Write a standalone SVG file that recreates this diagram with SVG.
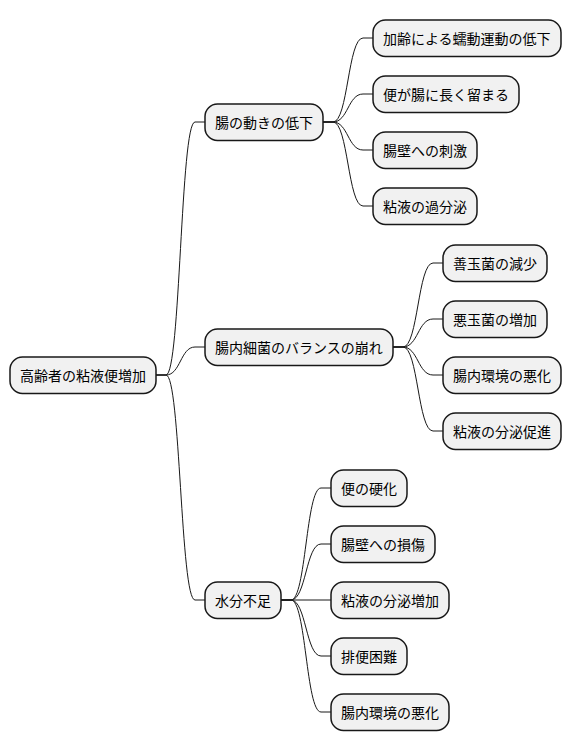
<svg xmlns="http://www.w3.org/2000/svg" width="572" height="752" viewBox="0 0 572 752">
<style>
.n rect{fill:#F1F1F1;stroke:#181818;stroke-width:1.5}
.n text{font-family:"Noto Sans CJK JP","Noto Sans",sans-serif;font-size:14px;fill:#000000}
.c path{fill:none;stroke:#181818;stroke-width:1}
</style>
<rect width="572" height="752" fill="#FFFFFF"/>
<g class="c">
<path d="M156,375 L166,375 C180.5,375 180.5,122 195,122 L205,122"/>
<path d="M156,375 L166,375 C180.5,375 180.5,347 195,347 L205,347"/>
<path d="M156,375 L166,375 C180.5,375 180.5,600 195,600 L205,600"/>
<path d="M323,122 L333,122 C348,122 348,38 363,38 L373,38"/>
<path d="M323,122 L333,122 C348,122 348,94 363,94 L373,94"/>
<path d="M323,122 L333,122 C348,122 348,150 363,150 L373,150"/>
<path d="M323,122 L333,122 C348,122 348,206 363,206 L373,206"/>
<path d="M393,347 L403,347 C418,347 418,263 433,263 L443,263"/>
<path d="M393,347 L403,347 C418,347 418,319 433,319 L443,319"/>
<path d="M393,347 L403,347 C418,347 418,375 433,375 L443,375"/>
<path d="M393,347 L403,347 C418,347 418,431 433,431 L443,431"/>
<path d="M281,600 L291,600 C306,600 306,488 321,488 L331,488"/>
<path d="M281,600 L291,600 C306,600 306,544 321,544 L331,544"/>
<path d="M281,600 L331,600"/>
<path d="M281,600 L291,600 C306,600 306,656 321,656 L331,656"/>
<path d="M281,600 L291,600 C306,600 306,712 321,712 L331,712"/>
</g>
<g id="root" class="n"><rect x="10" y="357" width="146" height="36.5" rx="12.5"/><text x="20" y="380.5">高齢者の粘液便増加</text></g>
<g id="n1" class="n"><rect x="205" y="104" width="118" height="36.5" rx="12.5"/><text x="215" y="127.5">腸の動きの低下</text></g>
<g id="n2" class="n"><rect x="205" y="329" width="188" height="36.5" rx="12.5"/><text x="215" y="352.5">腸内細菌のバランスの崩れ</text></g>
<g id="n3" class="n"><rect x="205" y="582" width="76" height="36.5" rx="12.5"/><text x="215" y="605.5">水分不足</text></g>
<g id="n1a" class="n"><rect x="373" y="20" width="188" height="36.5" rx="12.5"/><text x="383" y="43.5">加齢による蠕動運動の低下</text></g>
<g id="n1b" class="n"><rect x="373" y="76" width="146" height="36.5" rx="12.5"/><text x="383" y="99.5">便が腸に長く留まる</text></g>
<g id="n1c" class="n"><rect x="373" y="132" width="104" height="36.5" rx="12.5"/><text x="383" y="155.5">腸壁への刺激</text></g>
<g id="n1d" class="n"><rect x="373" y="188" width="104" height="36.5" rx="12.5"/><text x="383" y="211.5">粘液の過分泌</text></g>
<g id="n2a" class="n"><rect x="443" y="245" width="104" height="36.5" rx="12.5"/><text x="453" y="268.5">善玉菌の減少</text></g>
<g id="n2b" class="n"><rect x="443" y="301" width="104" height="36.5" rx="12.5"/><text x="453" y="324.5">悪玉菌の増加</text></g>
<g id="n2c" class="n"><rect x="443" y="357" width="118" height="36.5" rx="12.5"/><text x="453" y="380.5">腸内環境の悪化</text></g>
<g id="n2d" class="n"><rect x="443" y="413" width="118" height="36.5" rx="12.5"/><text x="453" y="436.5">粘液の分泌促進</text></g>
<g id="n3a" class="n"><rect x="331" y="470" width="76" height="36.5" rx="12.5"/><text x="341" y="493.5">便の硬化</text></g>
<g id="n3b" class="n"><rect x="331" y="526" width="104" height="36.5" rx="12.5"/><text x="341" y="549.5">腸壁への損傷</text></g>
<g id="n3c" class="n"><rect x="331" y="582" width="118" height="36.5" rx="12.5"/><text x="341" y="605.5">粘液の分泌増加</text></g>
<g id="n3d" class="n"><rect x="331" y="638" width="76" height="36.5" rx="12.5"/><text x="341" y="661.5">排便困難</text></g>
<g id="n3e" class="n"><rect x="331" y="694" width="118" height="36.5" rx="12.5"/><text x="341" y="717.5">腸内環境の悪化</text></g>
</svg>
